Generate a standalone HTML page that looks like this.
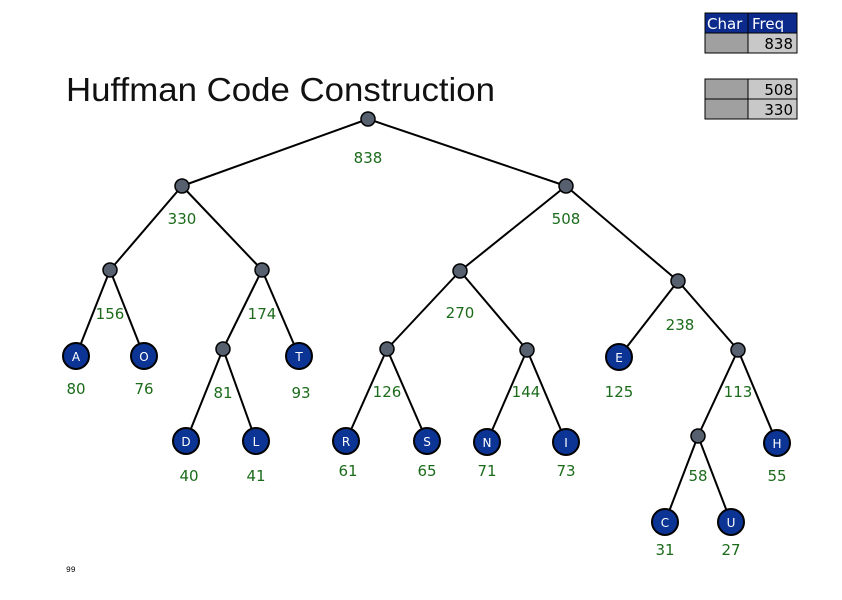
<!DOCTYPE html>
<html><head><meta charset="utf-8"><style>html,body{margin:0;padding:0;background:#fff}</style></head><body>
<svg width="842" height="595" viewBox="0 0 842 595" xmlns="http://www.w3.org/2000/svg">
<rect width="842" height="595" fill="#fff"/>
<text x="66" y="101" font-family="Liberation Sans, sans-serif" font-size="33" fill="#111" textLength="429" lengthAdjust="spacingAndGlyphs">Huffman Code Construction</text>
<text x="66" y="572" font-family="Liberation Mono, monospace" font-size="8" fill="#000">99</text>
<!-- tables -->
<g stroke="#000" stroke-width="1">
<rect x="705" y="13" width="92" height="20" fill="#0b2a8c"/>
<rect x="705" y="33" width="43" height="20" fill="#a0a0a0"/>
<rect x="748" y="33" width="49" height="20" fill="#c8c8c8"/>
<rect x="705" y="79" width="43" height="20" fill="#a0a0a0"/>
<rect x="748" y="79" width="49" height="20" fill="#c8c8c8"/>
<rect x="705" y="99" width="43" height="20" fill="#a0a0a0"/>
<rect x="748" y="99" width="49" height="20" fill="#c8c8c8"/>
<line x1="748" y1="13" x2="748" y2="33"/>
</g>
<g font-family="DejaVu Sans, sans-serif" font-size="15">
<text x="707" y="29" fill="#fff">Char</text><text x="752" y="29" fill="#fff">Freq</text>
<text x="793" y="49" text-anchor="end" fill="#000">838</text>
<text x="793" y="95" text-anchor="end" fill="#000">508</text>
<text x="793" y="115" text-anchor="end" fill="#000">330</text>
</g>
<!-- edges -->
<g stroke="#000" stroke-width="2">
<line x1="368" y1="119" x2="182" y2="186"/><line x1="368" y1="119" x2="566" y2="186"/>
<line x1="182" y1="186" x2="110" y2="270"/><line x1="182" y1="186" x2="262" y2="270"/>
<line x1="566" y1="186" x2="460" y2="271"/><line x1="566" y1="186" x2="678" y2="281"/>
<line x1="110" y1="270" x2="76" y2="356"/><line x1="110" y1="270" x2="144" y2="356"/>
<line x1="262" y1="270" x2="223" y2="349"/><line x1="262" y1="270" x2="299" y2="356"/>
<line x1="460" y1="271" x2="387" y2="349"/><line x1="460" y1="271" x2="527" y2="350"/>
<line x1="678" y1="281" x2="619" y2="357"/><line x1="678" y1="281" x2="738" y2="350"/>
<line x1="223" y1="349" x2="186" y2="441"/><line x1="223" y1="349" x2="256" y2="441"/>
<line x1="387" y1="349" x2="346" y2="441"/><line x1="387" y1="349" x2="427" y2="441"/>
<line x1="527" y1="350" x2="487" y2="442"/><line x1="527" y1="350" x2="566" y2="442"/>
<line x1="738" y1="350" x2="698" y2="436"/><line x1="738" y1="350" x2="777" y2="443"/>
<line x1="698" y1="436" x2="665" y2="522"/><line x1="698" y1="436" x2="731" y2="522"/>
</g>
<!-- internal nodes -->
<g fill="#56606e" stroke="#000" stroke-width="1.5">
<circle cx="368" cy="119" r="7"/><circle cx="182" cy="186" r="7"/><circle cx="566" cy="186" r="7"/>
<circle cx="110" cy="270" r="7"/><circle cx="262" cy="270" r="7"/><circle cx="460" cy="271" r="7"/>
<circle cx="678" cy="281" r="7"/><circle cx="223" cy="349" r="7"/><circle cx="387" cy="349" r="7"/>
<circle cx="527" cy="350" r="7"/><circle cx="738" cy="350" r="7"/><circle cx="698" cy="436" r="7"/>
</g>
<!-- leaves -->
<g fill="#0b3494" stroke="#000" stroke-width="2">
<circle cx="76" cy="356" r="13"/><circle cx="144" cy="356" r="13"/><circle cx="299" cy="356" r="13"/>
<circle cx="619" cy="357" r="13"/><circle cx="186" cy="441" r="13"/><circle cx="256" cy="441" r="13"/>
<circle cx="346" cy="441" r="13"/><circle cx="427" cy="441" r="13"/><circle cx="487" cy="442" r="13"/>
<circle cx="566" cy="442" r="13"/><circle cx="777" cy="443" r="13"/><circle cx="665" cy="522" r="13"/>
<circle cx="731" cy="522" r="13"/>
</g>
<g font-family="DejaVu Sans, sans-serif" font-size="12" fill="#fff" text-anchor="middle">
<text x="76" y="361">A</text><text x="144" y="361">O</text><text x="299" y="361">T</text>
<text x="619" y="362">E</text><text x="186" y="446">D</text><text x="256" y="446">L</text>
<text x="346" y="446">R</text><text x="427" y="446">S</text><text x="487" y="447">N</text>
<text x="566" y="447">I</text><text x="777" y="448">H</text><text x="665" y="527">C</text>
<text x="731" y="527">U</text>
</g>
<g font-family="DejaVu Sans, sans-serif" font-size="15" fill="#1b6b1b" text-anchor="middle">
<text x="368" y="163">838</text><text x="182" y="224">330</text><text x="566" y="224">508</text>
<text x="110" y="319">156</text><text x="262" y="319">174</text><text x="460" y="318">270</text>
<text x="680" y="330">238</text>
<text x="76" y="394">80</text><text x="144" y="394">76</text><text x="223" y="398">81</text>
<text x="301" y="398">93</text><text x="387" y="397">126</text><text x="526" y="397">144</text>
<text x="619" y="397">125</text><text x="738" y="397">113</text>
<text x="189" y="481">40</text><text x="256" y="481">41</text><text x="348" y="476">61</text>
<text x="427" y="476">65</text><text x="487" y="476">71</text><text x="566" y="476">73</text>
<text x="698" y="481">58</text><text x="777" y="481">55</text>
<text x="665" y="555">31</text><text x="731" y="555">27</text>
</g>
</svg>
</body></html>
